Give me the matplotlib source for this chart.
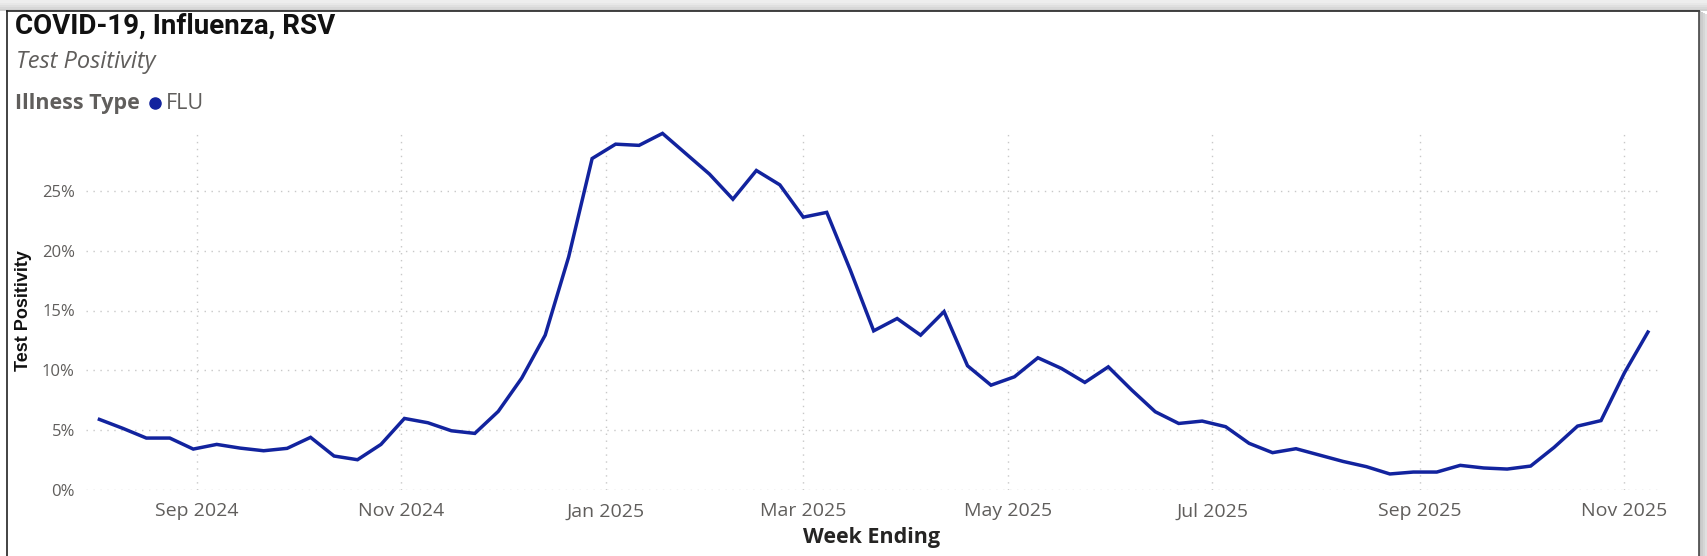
import pandas as pd
import matplotlib
matplotlib.use("Agg")
from matplotlib import pyplot as plt
import matplotlib.dates as mdates
from matplotlib.patches import Rectangle
from matplotlib.lines import Line2D
from matplotlib.ticker import FuncFormatter

# weekly FLU test positivity (%), week ending Saturday
start_week = "2024-08-03"
flu_pct = [5.9, 5.15, 4.34, 4.34, 3.42, 3.81, 3.5, 3.28, 3.48, 4.4,
           2.84, 2.53, 3.81, 5.98, 5.62, 4.95, 4.73, 6.57, 9.35, 12.94,
           19.48, 27.7, 28.9, 28.8, 29.8, 28.1, 26.4, 24.3, 26.7, 25.5,
           22.8, 23.2, 18.4, 13.3, 14.33, 12.94, 14.91, 10.38, 8.76, 9.46,
           11.05, 10.16, 8.99, 10.29, 8.35, 6.54, 5.56, 5.76, 5.29, 3.9,
           3.12, 3.45, 2.92, 2.39, 1.95, 1.34, 1.5, 1.5, 2.06, 1.84,
           1.75, 2.0, 3.56, 5.34, 5.8, 9.8, 13.2]
week_ending = pd.date_range(start_week, periods=len(flu_pct), freq="7D")
y_ticks = [0, 5, 10, 15, 20, 25]

W, H = 1708, 556
LINE = "#12239E"
GREY = "#605E5C"

fig = plt.figure(figsize=(W / 100, H / 100), dpi=100)
fig.patch.set_facecolor("white")

def fx(px):
    return px / W

def fy(py):
    return 1 - py / H

# card shadow + border
for i, c in enumerate(["#d0d0d0", "#d8d8d8", "#e0e0e0", "#e8e8e8", "#eeeeee"]):
    fig.add_artist(Rectangle((0, fy(11 - i * 2)), 1, (11 - i * 2) / H, transform=fig.transFigure,
                             facecolor=c, edgecolor="none", zorder=0))
for i, c in enumerate(["#c4c4c4", "#cccccc", "#d6d6d6", "#e0e0e0"]):
    fig.add_artist(Rectangle((fx(1699 + i * 2), 0), 2 / W, fy(11 + i), transform=fig.transFigure,
                             facecolor=c, edgecolor="none", zorder=0))
fig.add_artist(Rectangle((fx(1707), 0), 1 / W, 1, transform=fig.transFigure,
                         facecolor="#e6e6e6", edgecolor="none", zorder=0))
fig.add_artist(Line2D([fx(7), fx(7)], [0, fy(11)], color="#222222", lw=1.2, zorder=1))
fig.add_artist(Line2D([fx(7), fx(1699)], [fy(11), fy(11)], color="#222222", lw=1.2, zorder=1))
fig.add_artist(Line2D([fx(1699), fx(1699)], [0, fy(11)], color="#444444", lw=1.2, zorder=1))

# header texts
fig.text(fx(15), fy(26), "COVID-19, Influenza, RSV", fontsize=20, fontweight="bold",
         color="#111111", family="Roboto", va="center", ha="left")
fig.text(fx(16), fy(62), "Test Positivity", fontsize=17, style="italic",
         color=GREY, family="Open Sans", va="center", ha="left")
fig.text(fx(15), fy(104), "Illness Type", fontsize=15.5, fontweight="bold",
         color=GREY, family="Open Sans", va="center", ha="left")
fig.add_artist(Line2D([fx(155)], [fy(103)], marker="o", markersize=8,
                      color=LINE, linestyle="none"))
fig.text(fx(166), fy(104), "FLU", fontsize=15.5, color=GREY, family="Open Sans",
         va="center", ha="left")

ax = fig.add_axes([fx(86), fy(490), fx(1658) - fx(86), (490 - 131) / H])
ax.set_zorder(5)
ax.patch.set_alpha(0)
ax.plot(week_ending, flu_pct, color=LINE, linewidth=2.5, solid_joinstyle="miter")

ax.set_ylim(0, 30)
ax.set_yticks(y_ticks)
ax.yaxis.set_major_formatter(FuncFormatter(lambda v, p: f"{v:.0f}%"))
ax.set_xlim(pd.Timestamp("2024-07-30"), pd.Timestamp("2025-11-11"))
ax.xaxis.set_major_locator(mdates.MonthLocator(bymonth=[1, 3, 5, 7, 9, 11]))
ax.xaxis.set_major_formatter(mdates.DateFormatter("%b %Y"))

for s in ax.spines.values():
    s.set_visible(False)
ax.grid(True, color="#c8c8c8", linestyle=(0, (1, 4)), linewidth=1)
ax.tick_params(length=0)
ax.tick_params(axis="y", pad=8, labelsize=12, labelcolor=GREY)
ax.tick_params(axis="x", pad=9, labelsize=14, labelcolor=GREY)
for lab in ax.get_xticklabels() + ax.get_yticklabels():
    lab.set_family("Open Sans")

fig.text(fx(872), fy(537), "Week Ending", fontsize=15.5, fontweight="bold",
         color="#252423", family="Open Sans", ha="center", va="center")
fig.text(fx(24), fy(311), "Test Positivity", fontsize=13, fontweight="bold",
         color="#111111", family="Liberation Sans", rotation=90, ha="center", va="center")

fig.savefig("out.png", dpi=100)
